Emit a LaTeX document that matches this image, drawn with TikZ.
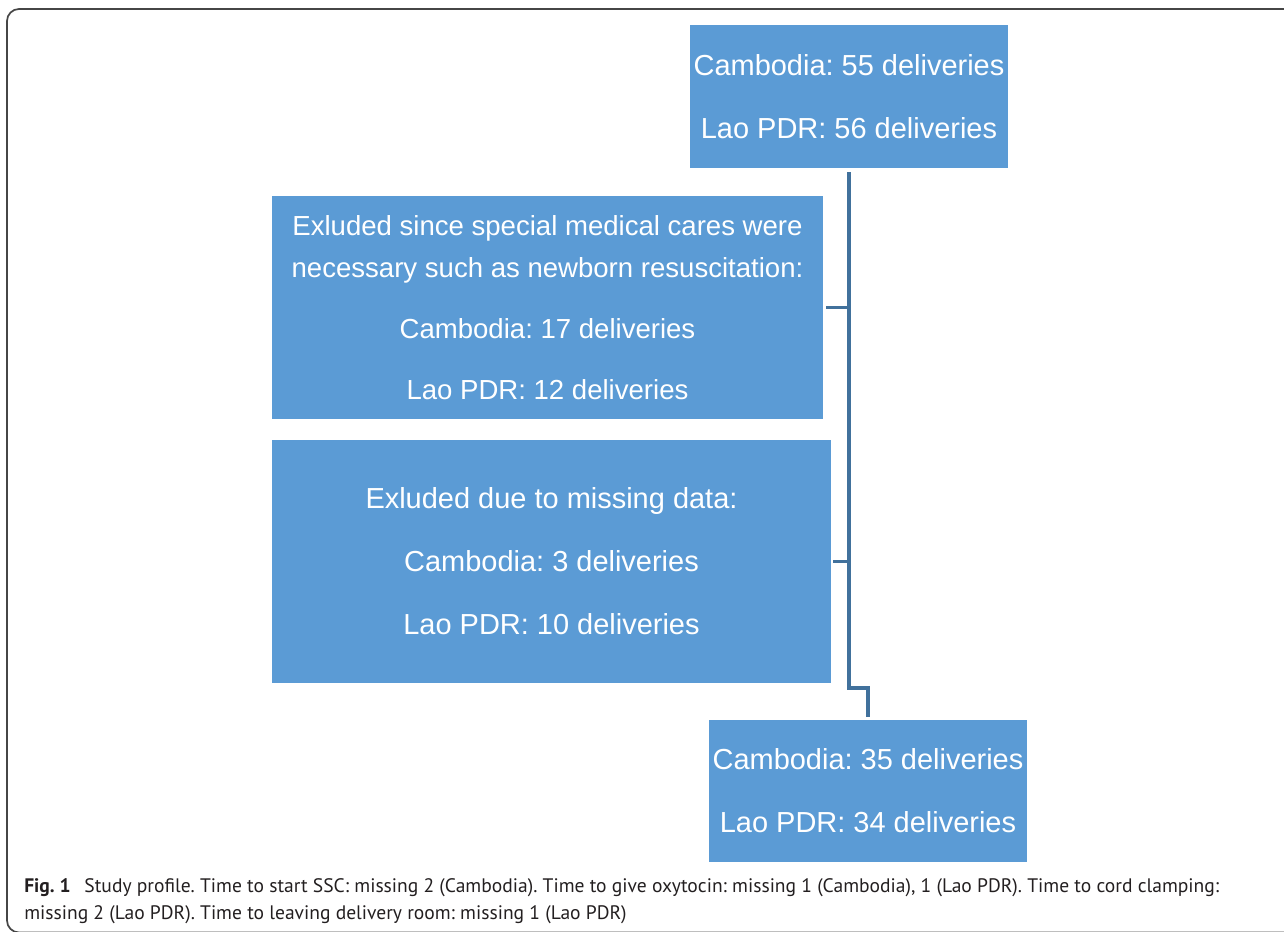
\documentclass[tikz,border=0pt]{standalone}
\usepackage{fontspec}
\setmainfont{Liberation Sans}
\newfontfamily\capfont{PT Sans}
\usepackage{xcolor}
\usepackage{tikz}
\frenchspacing

\definecolor{boxblue}{RGB}{91,155,213}
\definecolor{linkblue}{RGB}{65,113,156}
\definecolor{framegray}{RGB}{70,70,70}
\definecolor{captext}{RGB}{35,31,32}

\begin{document}
\begin{tikzpicture}[x=0.025cm, y=-0.025cm,
  bluebox/.style={rectangle, fill=boxblue, text=white, inner sep=0pt, align=center, font=\fontsize{20.6}{44.8}\selectfont},
  link/.style={draw=linkblue, line width=2.6pt}]%
\useasboundingbox (0,0) rectangle (1284,932);%
\begin{scope}%
\clip (0,0) rectangle (1284,932);%
\draw[framegray, line width=1.2pt, rounded corners=0.3cm] (1300,9) -- (7,9) -- (7,932.5) -- (1300,932.5);%
\end{scope}%
\node[bluebox, minimum width=7.95cm, minimum height=3.575cm] (total) at (849,96.5) {Cambodia: 55 deliveries\\Lao PDR: 56 deliveries};%
\node[bluebox, minimum width=13.775cm, minimum height=5.575cm, font=\fontsize{19.6}{29.9}\selectfont] (medical) at (547.5,307.5) {Exluded since special medical cares were\\necessary such as newborn resuscitation:\\[13.5pt]Cambodia: 17 deliveries\\[13.5pt]Lao PDR: 12 deliveries};%
\node[bluebox, minimum width=13.975cm, minimum height=6.075cm] (missing) at (551.5,561.5) {Exluded due to missing data:\\Cambodia: 3 deliveries\\Lao PDR: 10 deliveries};%
\node[bluebox, minimum width=7.95cm, minimum height=3.55cm] (final) at (868,791) {Cambodia: 35 deliveries\\Lao PDR: 34 deliveries};%
\coordinate (bend) at (849,688);%
\draw[link, shorten <=0.1cm, shorten >=0.075cm] (total.south) -- (bend) -| (final.north);%
\draw[link, shorten <=0.075cm] (medical.east) -- (medical.east -| total.south);%
\draw[link, shorten <=0.05cm] (missing.east) -- (missing.east -| total.south);%
\node[anchor=base west, inner sep=0pt, align=left, text=captext, font=\capfont\fontsize{13.9}{19.2}\selectfont] (caption) at (24,919) {\textbf{Fig. 1}\hspace{0.7em}Study profile. Time to start SSC: missing 2 (Cambodia). Time to give oxytocin: missing 1 (Cambodia), 1 (Lao PDR). Time to cord clamping:\\missing 2 (Lao PDR). Time to leaving delivery room: missing 1 (Lao PDR)};%
\end{tikzpicture}
\end{document}
